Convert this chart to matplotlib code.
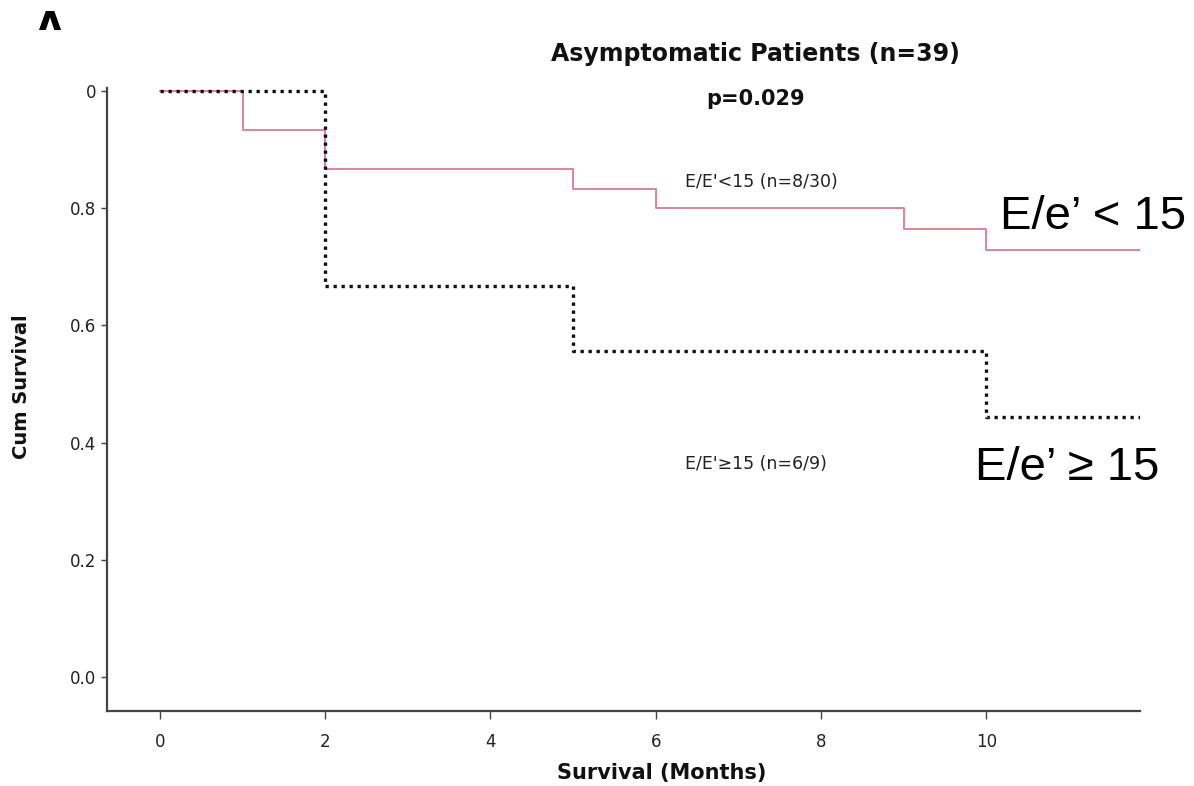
import matplotlib
matplotlib.use('Agg')
import matplotlib.pyplot as plt
from matplotlib.transforms import Bbox, TransformedBbox

# Kaplan-Meier steps, asymptomatic patients split by E/E' ratio
months_low = [0, 1, 2, 5, 6, 9, 10, 12]
surv_low = [1.0, 0.933, 0.867, 0.833, 0.800, 0.764, 0.728, 0.728]
months_high = [0, 2, 5, 10, 12]
surv_high = [1.0, 0.667, 0.556, 0.444, 0.444]

x_ticks = [0, 2, 4, 6, 8, 10]
y_ticks = [0.0, 0.2, 0.4, 0.6, 0.8, 1.0]
y_ticklabels = ['0.0', '0.2', '0.4', '0.6', '0.8', '0']

title = 'Asymptomatic Patients (n=39)'
p_text = 'p=0.029'
label_low = "E/E'<15 (n=8/30)"
label_high = "E/E'\u226515 (n=6/9)"

W, H = 1194, 786
fig = plt.figure(figsize=(W / 100, H / 100), dpi=100)
ax = fig.add_axes([107 / W, 1 - 711 / H, (1140 - 107) / W, (711 - 88) / H])

ax.step(months_low, surv_low, where='post', color='#de8498', linewidth=1.4, zorder=2)
ax.step(months_high, surv_high, where='post', color='#111111', linewidth=2.4,
        linestyle=(0, (1.0, 1.4)), zorder=3)

ax.set_xlim(-0.64, 11.86)
ax.set_ylim(-0.058, 1.005)

for side in ('top', 'right'):
    ax.spines[side].set_visible(False)
for side in ('left', 'bottom'):
    ax.spines[side].set_color('#444444')
    ax.spines[side].set_linewidth(1.6)

ax.set_xticks(x_ticks)
ax.set_yticks(y_ticks)
ax.set_yticklabels(y_ticklabels)
ax.tick_params(axis='x', direction='out', length=6, width=1, color='#444444',
               labelsize=12, pad=10, labelcolor='#222222')
ax.tick_params(axis='y', direction='out', length=4.5, width=1, color='#444444',
               labelsize=12, pad=3, labelcolor='#222222')

ax.text(7.21, 1.063, title, ha='center', va='center', fontsize=17,
        fontweight='bold', color='#111111', clip_on=False)
ax.text(7.21, 0.986, p_text, ha='center', va='center', fontsize=15,
        fontweight='bold', color='#111111', clip_on=False)
ax.text(6.35, 0.844, label_low, ha='left', va='center', fontsize=12.5, color='#222222')
ax.text(6.35, 0.364, label_high, ha='left', va='center', fontsize=12.5, color='#222222')

fig.text(22 / W, 1 - 387 / H, 'Cum Survival', rotation=90, ha='center', va='center',
         fontsize=14, fontweight='bold', color='#111111')
fig.text(662 / W, 1 - 773 / H, 'Survival (Months)', ha='center', va='center',
         fontsize=15, fontweight='bold', color='#111111')

# group labels on the right
big = dict(family=['Liberation Sans', 'DejaVu Sans'], fontsize=34, color='black',
           ha='left', va='center')
fig.text(1000 / W, 1 - 217 / H, 'E/e\u2019 < 15', **big)
fig.text(975 / W, 1 - 468 / H, 'E/e\u2019 \u2265 15', **big)

# panel letter, only its top edge shows
panel = fig.text(32 / W, 1 - 10 / H, 'A', ha='left', va='top', fontsize=36,
                 fontweight='bold', family=['Liberation Sans', 'DejaVu Sans'])
panel.set_clip_box(TransformedBbox(Bbox.from_extents(0, 1 - 30 / H, 1, 1), fig.transFigure))
panel.set_clip_on(True)

fig.savefig('out.png', dpi=100)
